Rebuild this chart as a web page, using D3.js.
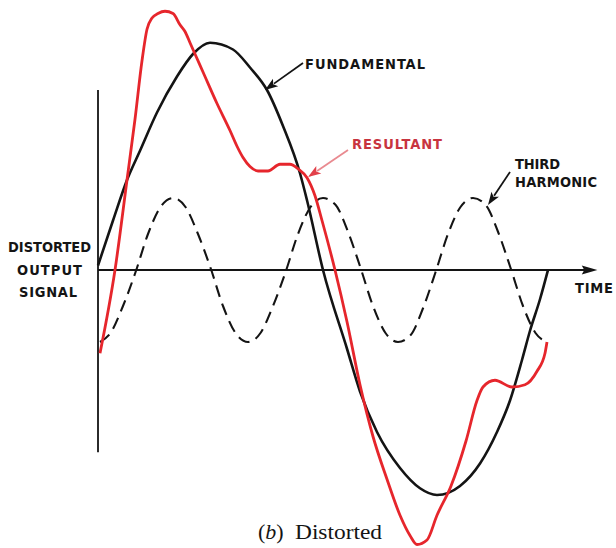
<!DOCTYPE html>
<html><head><meta charset="utf-8">
<script src="https://cdn.jsdelivr.net/npm/d3@7"></script>
<style>html,body{margin:0;padding:0;background:#fff;} svg{display:block;}</style>
</head><body>
<svg id="chart" width="616" height="548"></svg>
<script>
// ---- data (time in degrees of the fundamental, amplitude relative to fundamental peak) ----
const fundT = [0, 12, 23.2, 33.6, 47.2, 63.2, 76, 89.6, 108, 121.6, 135.2, 148, 161.6, 167.2, 180, 199.2, 209.6, 223.2, 241.6, 257.6, 271.2, 289.6, 305.6, 319.2, 329.6, 339.2, 345.6, 353.6, 360];
const fundV = [0.02, 0.22, 0.40, 0.53, 0.70, 0.86, 0.96, 1.01, 0.98, 0.90, 0.80, 0.64, 0.43, 0.31, 0, -0.35, -0.54, -0.72, -0.88, -0.97, -1.00, -0.96, -0.86, -0.72, -0.58, -0.40, -0.27, -0.13, 0];

const thirdT = [1.6, 10, 20, 30, 40, 50, 60, 70, 80, 90, 100, 110, 120, 130, 140, 150, 160, 170, 180, 190, 200, 210, 220, 230, 240, 250, 260, 270, 280, 290, 300, 310, 320, 330, 340, 350, 359.2];
const thirdV = [-0.32, -0.28, -0.16, -0.01, 0.16, 0.28, 0.32, 0.28, 0.16, 0.01, -0.16, -0.28, -0.32, -0.28, -0.16, -0.01, 0.16, 0.28, 0.32, 0.29, 0.17, 0.01, -0.16, -0.28, -0.32, -0.29, -0.17, -0.01, 0.16, 0.28, 0.32, 0.29, 0.17, 0.01, -0.16, -0.28, -0.32];

const resT = [1.6, 13.6, 23.2, 29.6, 35.2, 39.2, 43.2, 48, 53.6, 60, 65.6, 69.6, 73.6, 78.4, 84, 95.2, 105.6, 111.2, 116, 121.6, 128, 136, 145.6, 153.6, 160, 167.2, 173.6, 179.2, 189.6, 199.2, 209.6, 220, 231.2, 241.6, 249.6, 255.2, 263.2, 271.2, 282.4, 294.4, 303.2, 308, 317.6, 331.2, 341.6, 351.2, 357.6, 359.2];
const resV = [-0.37, 0, 0.40, 0.67, 0.93, 1.07, 1.12, 1.14, 1.15, 1.14, 1.09, 1.06, 1.01, 0.95, 0.88, 0.74, 0.62, 0.55, 0.50, 0.46, 0.44, 0.44, 0.47, 0.47, 0.45, 0.41, 0.33, 0.22, 0, -0.23, -0.51, -0.74, -0.93, -1.09, -1.18, -1.22, -1.20, -1.09, -0.96, -0.76, -0.58, -0.52, -0.49, -0.52, -0.51, -0.45, -0.37, -0.32];

const axisLabels = ["DISTORTED", "OUTPUT", "SIGNAL"];
const timeLabel = "TIME";
const seriesNames = ["FUNDAMENTAL", "RESULTANT", "THIRD", "HARMONIC"];
const captionPrefix = ["(", "b", ")"];
const captionText = "Distorted";

// ---- scales ----
const x = d3.scaleLinear().domain([0, 360]).range([98, 548]);
const y = d3.scaleLinear().domain([-1, 1]).range([495, 45]);

const svg = d3.select("#chart");
const BLACK = "#141414", RED = "#e6262c";

// axes
svg.append("line").attr("x1", x(0)).attr("x2", x(0)).attr("y1", y(0.8)).attr("y2", y(-0.81))
  .attr("stroke", BLACK).attr("stroke-width", 1.8);
svg.append("line").attr("x1", x(0)).attr("x2", x(390)).attr("y1", y(0)).attr("y2", y(0))
  .attr("stroke", BLACK).attr("stroke-width", 1.8);
svg.append("path")
  .attr("d", `M${x(399.5)},${y(0)} L${x(387)},${y(0)-4.5} L${x(389)},${y(0)} L${x(387)},${y(0)+4.5} Z`)
  .attr("fill", BLACK);

const line = d3.line().x(d => x(d[0])).y(d => y(d[1])).curve(d3.curveMonotoneX);

// third harmonic (dashed)
svg.append("path").datum(d3.zip(thirdT, thirdV)).attr("d", line)
  .attr("fill", "none").attr("stroke", BLACK).attr("stroke-width", 2.1)
  .attr("stroke-dasharray", "12,7");
// fundamental
svg.append("path").datum(d3.zip(fundT, fundV)).attr("d", line)
  .attr("fill", "none").attr("stroke", BLACK).attr("stroke-width", 2.6);
// resultant
svg.append("path").datum(d3.zip(resT, resV)).attr("d", line)
  .attr("fill", "none").attr("stroke", RED).attr("stroke-width", 2.8)
  .attr("stroke-linejoin", "round");

// annotation arrows
function arrow(t1, v1, t2, v2, lineColor, headColor) {
  const x1 = x(t1), y1 = y(v1), x2 = x(t2), y2 = y(v2);
  const ang = Math.atan2(y2 - y1, x2 - x1);
  const L = 13, W = 4.5;
  const bx = x2 - L * Math.cos(ang), by = y2 - L * Math.sin(ang);
  svg.append("line").attr("x1", x1).attr("y1", y1).attr("x2", bx + 2 * Math.cos(ang)).attr("y2", by + 2 * Math.sin(ang))
    .attr("stroke", lineColor).attr("stroke-width", 1.8);
  const px = -Math.sin(ang), py = Math.cos(ang);
  svg.append("path")
    .attr("d", `M${x2},${y2} L${bx + W * px},${by + W * py} L${bx + 3 * Math.cos(ang)},${by + 3 * Math.sin(ang)} L${bx - W * px},${by - W * py} Z`)
    .attr("fill", headColor);
}
arrow(164, 0.92, 133.6, 0.80, BLACK, BLACK);
arrow(200, 0.533, 168, 0.413, "#e98a90", "#e2404a");
arrow(329.6, 0.436, 312, 0.289, BLACK, BLACK);

// labels
const lab = (txt, px, py, len, color) =>
  svg.append("text").attr("x", px).attr("y", py).text(txt)
    .attr("font-family", "'DejaVu Sans Condensed', 'DejaVu Sans', sans-serif")
    .attr("font-weight", "bold").attr("font-size", 14.5)
    .attr("fill", color || BLACK)
    .attr("textLength", len).attr("lengthAdjust", "spacing");

lab(seriesNames[0], x(165.6), y(0.893), 120);
lab(seriesNames[1], x(203.2), y(0.538), 90, "#c8343f");
lab(seriesNames[2], x(333.6), y(0.449), 45);
lab(seriesNames[3], x(333.6), y(0.369), 82);

lab(axisLabels[0], x(0) - 90, y(0.08), 83);
lab(axisLabels[1], x(0) - 81, y(-0.02), 65);
lab(axisLabels[2], x(0) - 79, y(-0.12), 58);
lab(timeLabel, x(381.6), y(-0.102), 38);

// caption
const cap = svg.append("text").attr("x", x(128)).attr("y", 539)
  .attr("font-family", "'Liberation Serif', 'DejaVu Serif', serif").attr("font-size", 22).attr("fill", BLACK);
cap.append("tspan").text(captionPrefix[0]);
cap.append("tspan").attr("font-style", "italic").text(captionPrefix[1]);
cap.append("tspan").text(captionPrefix[2]);
svg.append("text").attr("x", x(157.6)).attr("y", 539).text(captionText)
  .attr("font-family", "'Liberation Serif', 'DejaVu Serif', serif").attr("font-size", 22).attr("fill", BLACK)
  .attr("textLength", 87).attr("lengthAdjust", "spacingAndGlyphs");
</script>
</body></html>
